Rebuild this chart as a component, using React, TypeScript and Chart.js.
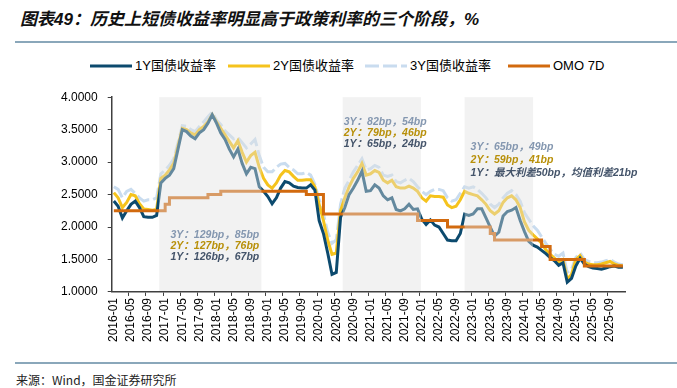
import React, { useEffect, useRef } from 'react';
import { Chart, registerables } from 'chart.js';

Chart.register(...registerables);

// ---------- data ----------
const years = ['2016', '2017', '2018', '2019', '2020', '2021', '2022', '2023', '2024', '2025'];
const monthNums = ['01', '02', '03', '04', '05', '06', '07', '08', '09', '10', '11', '12'];
const monthLabels: string[] = years.flatMap((y) => monthNums.map((m) => `${y}-${m}`));

const seriesNames = ['1Y国债收益率', '2Y国债收益率', '3Y国债收益率', 'OMO 7D'];
const seriesColors = ['#0c4a6e', '#f5c31d', '#c9dcef', '#d26a0e'];

const yield1Y = [
  2.40, 2.32, 2.14, 2.25, 2.35, 2.40, 2.30, 2.16, 2.15, 2.15, 2.18, 2.68,
  2.75, 2.80, 2.90, 3.20, 3.50, 3.47, 3.40, 3.36, 3.45, 3.50, 3.60, 3.73,
  3.60, 3.45, 3.35, 3.20, 3.08, 3.20, 2.98, 2.82, 2.92, 2.90, 2.62, 2.55,
  2.47, 2.36, 2.45, 2.60, 2.70, 2.68, 2.63, 2.61, 2.60, 2.60, 2.65, 2.57,
  2.10, 1.90, 1.60, 1.27, 1.30, 2.15, 2.30, 2.50, 2.60, 2.72, 2.86, 2.55,
  2.56, 2.65, 2.60, 2.48, 2.42, 2.45, 2.27, 2.25, 2.28, 2.35, 2.27, 2.28,
  2.12, 2.04, 2.11, 2.03, 2.00, 1.90, 1.80, 1.79, 1.79, 1.90, 2.20, 2.18,
  2.20, 2.28, 2.28, 2.14, 2.00, 1.86, 1.92, 2.17, 2.24, 2.26, 2.30, 2.10,
  1.93, 1.78, 1.72, 1.69, 1.64, 1.59, 1.53, 1.48, 1.41, 1.45, 1.15, 1.21,
  1.40, 1.52, 1.43, 1.39, 1.37, 1.36, 1.35, 1.37, 1.39, 1.40, 1.38, 1.38,
];

const yield2Y = [
  2.53, 2.45, 2.30, 2.38, 2.50, 2.48, 2.36, 2.28, 2.27, 2.26, 2.27, 2.75,
  2.80, 2.88, 2.98, 3.25, 3.52, 3.50, 3.45, 3.42, 3.50, 3.55, 3.62, 3.73,
  3.62, 3.52, 3.42, 3.32, 3.22, 3.33, 3.15, 3.00, 3.10, 3.15, 2.92, 2.75,
  2.65, 2.60, 2.68, 2.80, 2.87, 2.85, 2.78, 2.72, 2.72, 2.73, 2.73, 2.62,
  2.35, 2.10, 1.80, 1.58, 1.60, 2.25, 2.45, 2.62, 2.75, 2.85, 2.98, 2.80,
  2.82, 2.87, 2.84, 2.72, 2.68, 2.72, 2.62, 2.60, 2.60, 2.63, 2.60, 2.55,
  2.45, 2.40, 2.48, 2.47, 2.47, 2.46, 2.34, 2.30, 2.32, 2.42, 2.55, 2.52,
  2.50, 2.48, 2.42, 2.35, 2.25, 2.20, 2.25, 2.38, 2.45, 2.48, 2.42, 2.30,
  2.08, 1.95, 1.88, 1.82, 1.75, 1.65, 1.58, 1.52, 1.46, 1.50, 1.20, 1.27,
  1.50, 1.56, 1.46, 1.43, 1.42, 1.42, 1.43, 1.45, 1.47, 1.43, 1.41, 1.40,
];

const yield3Y = [
  2.62, 2.58, 2.45, 2.55, 2.58, 2.52, 2.45, 2.40, 2.42, 2.42, 2.45, 2.82,
  2.88, 2.95, 3.05, 3.30, 3.56, 3.55, 3.50, 3.47, 3.55, 3.62, 3.70, 3.77,
  3.65, 3.58, 3.48, 3.42, 3.36, 3.38, 3.30, 3.22, 3.28, 3.35, 3.10, 2.92,
  2.85, 2.85, 2.92, 2.97, 2.98, 2.92, 2.88, 2.82, 2.82, 2.84, 2.80, 2.66,
  2.42, 2.20, 1.92, 1.75, 1.80, 2.35, 2.60, 2.72, 2.85, 2.95, 3.05, 2.88,
  2.90, 2.95, 2.92, 2.80, 2.78, 2.80, 2.70, 2.68, 2.72, 2.75, 2.70, 2.62,
  2.55, 2.50, 2.55, 2.58, 2.58, 2.56, 2.45, 2.40, 2.42, 2.52, 2.62, 2.60,
  2.62, 2.58, 2.52, 2.45, 2.35, 2.30, 2.35, 2.45, 2.52, 2.56, 2.50, 2.40,
  2.22, 2.12, 2.02, 1.95, 1.85, 1.75, 1.66, 1.58, 1.55, 1.60, 1.30, 1.35,
  1.53, 1.60, 1.50, 1.47, 1.45, 1.45, 1.46, 1.48, 1.50, 1.46, 1.43, 1.42,
];

const omo7D = [
  2.25, 2.25, 2.25, 2.25, 2.25, 2.25, 2.25, 2.25, 2.25, 2.25, 2.25, 2.25,
  2.25, 2.35, 2.45, 2.45, 2.45, 2.45, 2.45, 2.45, 2.45, 2.45, 2.45, 2.50,
  2.50, 2.50, 2.55, 2.55, 2.55, 2.55, 2.55, 2.55, 2.55, 2.55, 2.55, 2.55,
  2.55, 2.55, 2.55, 2.55, 2.55, 2.55, 2.55, 2.55, 2.55, 2.55, 2.50, 2.50,
  2.50, 2.50, 2.20, 2.20, 2.20, 2.20, 2.20, 2.20, 2.20, 2.20, 2.20, 2.20,
  2.20, 2.20, 2.20, 2.20, 2.20, 2.20, 2.20, 2.20, 2.20, 2.20, 2.20, 2.20,
  2.10, 2.10, 2.10, 2.10, 2.10, 2.10, 2.10, 2.00, 2.00, 2.00, 2.00, 2.00,
  2.00, 2.00, 2.00, 2.00, 2.00, 1.90, 1.80, 1.80, 1.80, 1.80, 1.80, 1.80,
  1.80, 1.80, 1.80, 1.80, 1.80, 1.70, 1.70, 1.50, 1.50, 1.50, 1.50, 1.50,
  1.50, 1.50, 1.50, 1.40, 1.40, 1.40, 1.40, 1.40, 1.40, 1.40, 1.40, 1.40,
];

const yTicks = [1.0, 1.5, 2.0, 2.5, 3.0, 3.5, 4.0];

// shaded phases (in month-slot units of the category axis)
const shadeStart = [10.6, 53.5, 82.0];
const shadeEnd = [34.5, 71.8, 98.0];

// annotation texts for each phase: [3Y, 2Y, 1Y]
const noteLines = [
  ['3Y：129bp，85bp', '2Y：127bp，76bp', '1Y：126bp，67bp'],
  ['3Y：82bp，54bp', '2Y：79bp，46bp', '1Y：65bp，24bp'],
  ['3Y：65bp，49bp', '2Y：59bp，41bp', '1Y：最大利差50bp，均值利差21bp'],
];
const noteAnchorX = [13.25, 53.74, 83.4];
const noteAnchorY = [1.877, 3.62, 3.226];
const noteGap = [11.2, 11.3, 13.0];
const noteColors = ['#8497b0', '#b8900a', '#44546a'];

const FONT = "'Liberation Sans', Arial, 'Noto Sans CJK SC', sans-serif";

const phasePlugin = {
  id: 'phases',
  afterDatasetsDraw(chart: any) {
    const { ctx, scales } = chart;
    const xs = scales.x;
    const ys = scales.y;
    ctx.save();
    ctx.fillStyle = 'rgba(225,225,225,0.42)';
    const top = ys.getPixelForValue(yTicks[yTicks.length - 1]);
    const bottom = ys.getPixelForValue(yTicks[0]);
    for (let k = 0; k < shadeStart.length; k++) {
      const x0 = xs.getPixelForValue(shadeStart[k]);
      const x1 = xs.getPixelForValue(shadeEnd[k]);
      ctx.fillRect(x0, top, x1 - x0, bottom - top - 1);
    }
    ctx.font = `italic bold 10.5px ${FONT}`;
    ctx.textBaseline = 'middle';
    ctx.textAlign = 'left';
    for (let k = 0; k < noteLines.length; k++) {
      const x = xs.getPixelForValue(noteAnchorX[k]);
      const y = ys.getPixelForValue(noteAnchorY[k]);
      noteLines[k].forEach((t, j) => {
        ctx.fillStyle = noteColors[j];
        ctx.fillText(t, x, y + j * noteGap[k]);
      });
    }
    ctx.restore();
  },
};

const legendLeft = [90, 228, 365, 508];

function LegendSwatch({ color, dashed }: { color: string; dashed: boolean }) {
  return (
    <svg width={42} height={6} style={{ display: 'block' }}>
      <line
        x1={0}
        y1={3}
        x2={42}
        y2={3}
        stroke={color}
        strokeWidth={3}
        strokeDasharray={dashed ? '14 4' : undefined}
      />
    </svg>
  );
}

export default function App() {
  const canvasRef = useRef<HTMLCanvasElement | null>(null);

  useEffect(() => {
    if (!canvasRef.current) return;
    const chart = new Chart(canvasRef.current, {
      type: 'line',
      data: {
        labels: monthLabels,
        datasets: [
          {
            label: seriesNames[0],
            data: yield1Y,
            borderColor: seriesColors[0],
            borderWidth: 3,
            pointRadius: 0,
            tension: 0,
            order: 1,
          },
          {
            label: seriesNames[1],
            data: yield2Y,
            borderColor: seriesColors[1],
            borderWidth: 3,
            pointRadius: 0,
            tension: 0,
            order: 2,
          },
          {
            label: seriesNames[2],
            data: yield3Y,
            borderColor: seriesColors[2],
            borderWidth: 3,
            borderDash: [14, 4],
            pointRadius: 0,
            tension: 0,
            order: 3,
          },
          {
            label: seriesNames[3],
            data: omo7D,
            borderColor: seriesColors[3],
            borderWidth: 3,
            pointRadius: 0,
            stepped: 'after',
            order: 0,
          },
        ],
      },
      options: {
        responsive: false,
        animation: false,
        events: [],
        layout: { padding: { left: 51, right: 52, top: 16, bottom: 16 } },
        plugins: {
          legend: { display: false },
          tooltip: { enabled: false },
        },
        scales: {
          x: {
            type: 'category',
            offset: true,
            grid: {
              display: true,
              offset: true,
              drawOnChartArea: false,
              drawTicks: true,
              tickLength: 4,
              lineWidth: 1,
              color: (c: any) => (c.index > 0 && c.index % 4 === 0 ? '#404040' : 'rgba(0,0,0,0)'),
            },
            border: { display: true, color: '#404040', width: 1.5 },
            ticks: {
              autoSkip: false,
              minRotation: 90,
              maxRotation: 90,
              padding: 2,
              color: '#000',
              font: { size: 12, family: FONT },
              callback: (_v: any, i: number) => (i % 4 === 0 ? monthLabels[i] : ''),
            },
          },
          y: {
            min: yTicks[0],
            max: yTicks[yTicks.length - 1],
            afterBuildTicks: (s: any) => {
              s.ticks = yTicks.map((v) => ({ value: v }));
            },
            grid: {
              display: true,
              drawOnChartArea: false,
              drawTicks: true,
              tickLength: 4,
              color: '#404040',
            },
            border: { display: true, color: '#404040', width: 1.5 },
            ticks: {
              padding: 10,
              color: '#000',
              font: { size: 12, family: FONT },
              callback: (v: any) => Number(v).toFixed(4),
            },
          },
        },
      },
      plugins: [phasePlugin],
    });
    return () => chart.destroy();
  }, []);

  return (
    <div
      style={{
        position: 'absolute',
        left: 0,
        top: 0,
        width: 677,
        height: 388,
        background: '#fff',
        overflow: 'hidden',
      }}
    >
      <div
        style={{
          position: 'absolute',
          left: 20,
          top: 8,
          fontFamily: "'Liberation Sans', 'Noto Sans CJK SC', sans-serif",
          fontStyle: 'italic',
          fontWeight: 'bold',
          fontSize: 17,
          lineHeight: '24px',
          color: '#111',
          whiteSpace: 'nowrap',
        }}
      >
        图表49：历史上短债收益率明显高于政策利率的三个阶段，%
      </div>
      <div
        style={{ position: 'absolute', left: 15, top: 41, width: 662, height: 2, background: '#8aa7ba' }}
      />
      {seriesNames.map((name, k) => (
        <div
          key={name}
          style={{
            position: 'absolute',
            left: legendLeft[k],
            top: 57,
            height: 18,
            display: 'flex',
            alignItems: 'center',
            whiteSpace: 'nowrap',
          }}
        >
          <LegendSwatch color={seriesColors[k]} dashed={k === 2} />
          <span
            style={{
              marginLeft: 3,
              fontFamily: FONT,
              fontSize: 13,
              lineHeight: '18px',
              color: '#000',
            }}
          >
            {name}
          </span>
        </div>
      ))}
      <div style={{ position: 'absolute', left: 0, top: 80, width: 677, height: 280 }}>
        <canvas ref={canvasRef} width={677} height={280} style={{ width: 677, height: 280, display: 'block' }} />
      </div>
      <div
        style={{ position: 'absolute', left: 15, top: 362, width: 662, height: 2, background: '#8aa7ba' }}
      />
      <div
        style={{
          position: 'absolute',
          left: 16,
          top: 372,
          fontFamily: "'Noto Sans CJK SC', sans-serif",
          fontSize: 12,
          lineHeight: '16px',
          color: '#222',
          whiteSpace: 'nowrap',
        }}
      >
        来源：Wind，国金证券研究所
      </div>
    </div>
  );
}
